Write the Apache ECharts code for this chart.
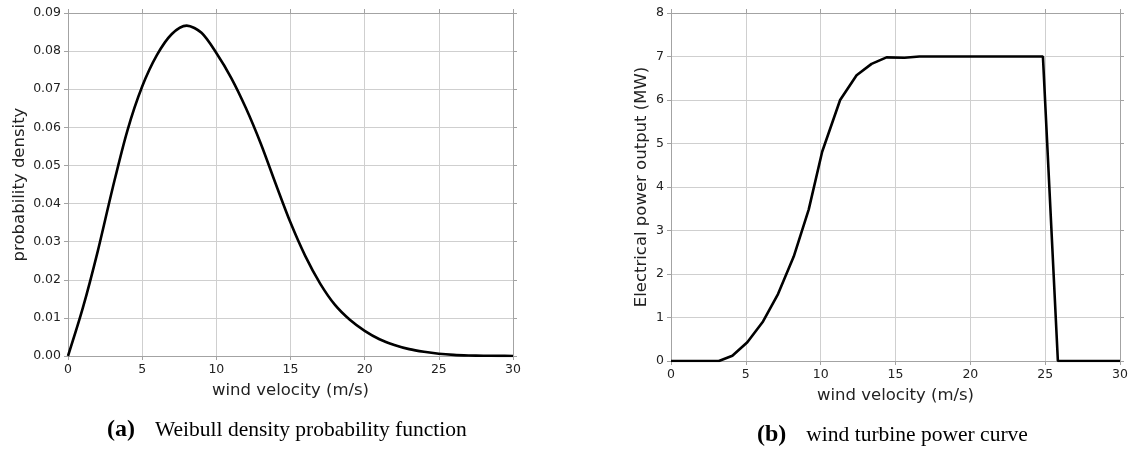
<!DOCTYPE html>
<html>
<head>
<meta charset="utf-8">
<script src="https://cdn.jsdelivr.net/npm/echarts@6/dist/echarts.min.js"></script>
<style>
  html, body { margin: 0; padding: 0; background: #fff; }
  #main { width: 1132px; height: 450px; }
</style>
</head>
<body>
<div id="main"></div>
<script>
// (a) weibull pdf at each m/s
var windA = [0, 1, 2, 3, 4, 5, 6, 7, 8, 9, 10, 11, 12, 13, 14, 15, 16, 17, 18, 19, 20, 21, 22, 23, 24, 25, 26, 27, 28, 29, 30];
var densityA = [0, 0.0126, 0.0274, 0.0439, 0.0591, 0.0707, 0.0790, 0.0845, 0.0867, 0.0848, 0.0795, 0.0730, 0.0650, 0.0557, 0.0452, 0.0350, 0.0262, 0.0190, 0.0134, 0.0095, 0.0066, 0.0044, 0.0029, 0.0018, 0.0011, 0.0006, 0.0003, 0.00015, 0.00007, 0.00003, 0.00001];

// (b) turbine power curve vertices
var windB = [0, 3.2, 4.1, 5.1, 6.15, 7.15, 8.2, 9.2, 10.1, 11.3, 12.4, 13.4, 14.4, 15.6, 16.6, 24.85, 25.85, 30];
var powerB = [0, 0, 0.12, 0.43, 0.91, 1.54, 2.4, 3.48, 4.81, 6.0, 6.57, 6.83, 6.98, 6.97, 7.0, 7.0, 0, 0];

var xTicks = [0, 5, 10, 15, 20, 25, 30];

function zip(xs, ys) {
	return xs.map(function (x, i) { return [x, ys[i]]; });
}

var spine = '#a3a3a3';
var gridColor = '#cfcfcf';
var sans = 'DejaVu Sans';

function mainX(gridIndex) {
	return {
		type: 'value', gridIndex: gridIndex, position: 'bottom',
		min: xTicks[0], max: xTicks[xTicks.length - 1], interval: 5,
		name: 'wind velocity (m/s)', nameLocation: 'middle', nameGap: 26,
		nameTextStyle: { fontFamily: sans, fontSize: 16.5, color: '#222' },
		axisLine: { show: true, onZero: false, lineStyle: { color: spine, width: 1 } },
		axisTick: { show: true, inside: false, length: 4, lineStyle: { color: spine } },
		axisLabel: { margin: 7, fontFamily: sans, fontSize: 12.5, color: '#222' },
		splitLine: { show: true, lineStyle: { color: gridColor, width: 1 } }
	};
}

function frameX(gridIndex) {
	return {
		type: 'value', gridIndex: gridIndex, position: 'top',
		min: 0, max: 30, interval: 5,
		axisLine: { show: true, onZero: false, lineStyle: { color: spine, width: 1 } },
		axisTick: { show: true, inside: false, length: 4, lineStyle: { color: spine } },
		axisLabel: { show: false },
		splitLine: { show: false }
	};
}

function mainY(gridIndex, max, step, name, gap, fmt) {
	return {
		type: 'value', gridIndex: gridIndex, position: 'left',
		min: 0, max: max, interval: step,
		name: name, nameLocation: 'middle', nameGap: gap,
		nameTextStyle: { fontFamily: sans, fontSize: 16.5, color: '#222' },
		axisLine: { show: true, onZero: false, lineStyle: { color: spine, width: 1 } },
		axisTick: { show: true, inside: false, length: 4, lineStyle: { color: spine } },
		axisLabel: { margin: 7, fontFamily: sans, fontSize: 12.5, color: '#222', formatter: fmt },
		splitLine: { show: true, lineStyle: { color: gridColor, width: 1 } }
	};
}

function frameY(gridIndex, max, step) {
	return {
		type: 'value', gridIndex: gridIndex, position: 'right',
		min: 0, max: max, interval: step,
		axisLine: { show: true, onZero: false, lineStyle: { color: spine, width: 1 } },
		axisTick: { show: true, inside: false, length: 4, lineStyle: { color: spine } },
		axisLabel: { show: false },
		splitLine: { show: false }
	};
}

var serif = 'Liberation Serif';
function caption(left, top, tag, text) {
	return {
		left: left, top: top, padding: 0,
		text: '{b|' + tag + '}{t|' + text + '}',
		textStyle: {
			fontWeight: 'normal',
			rich: {
				b: { fontFamily: serif, fontWeight: 'bold', fontSize: 24, color: '#000' },
				t: { fontFamily: serif, fontWeight: 'normal', fontSize: 21.5, color: '#000', padding: [0, 0, 0, 20] }
			}
		}
	};
}

var chart = echarts.init(document.getElementById('main'));

var option = {
	animation: false,
	backgroundColor: '#fff',
	title: [
		caption(107, 418, '(a)', 'Weibull density probability function'),
		caption(757, 423, '(b)', 'wind turbine power curve')
	],
	grid: [
		{ left: 68, top: 13, width: 445, height: 343 },
		{ left: 671, top: 13, width: 449, height: 348 }
	],
	xAxis: [mainX(0), frameX(0), mainX(1), frameX(1)],
	yAxis: [
		mainY(0, 0.09, 0.01, 'probability density', 40, function (v) { return v.toFixed(2); }),
		frameY(0, 0.09, 0.01),
		mainY(1, 8, 1, 'Electrical power output (MW)', 21, function (v) { return String(Math.round(v)); }),
		frameY(1, 8, 1)
	],
	series: [
		{
			name: 'density', type: 'line', xAxisIndex: 0, yAxisIndex: 0,
			data: zip(windA, densityA), smooth: 0.3, showSymbol: false,
			lineStyle: { color: '#000', width: 2.6 }
		},
		{
			name: 'power', type: 'line', xAxisIndex: 2, yAxisIndex: 2,
			data: zip(windB, powerB), showSymbol: false,
			lineStyle: { color: '#000', width: 2.6 }
		}
	]
};

chart.setOption(option);
</script>
</body>
</html>
